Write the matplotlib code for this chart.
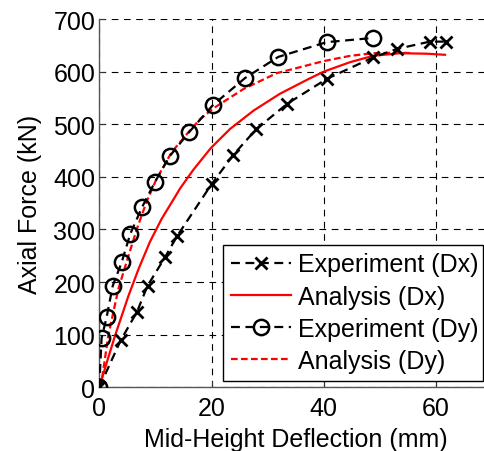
import matplotlib
matplotlib.use("Agg")
import matplotlib.pyplot as plt

plt.rcParams['font.family'] = ['Liberation Sans', 'DejaVu Sans']

# Experiment (Dx)
exp_dx_x = [0, 3.8, 6.7, 8.6, 11.7, 13.9, 20.0, 23.9, 28.0, 33.5, 40.5, 48.8, 53.0, 58.9, 61.8]
exp_dx_y = [0, 89, 143, 193, 247, 288, 386, 442, 491, 539, 586, 627, 643, 657, 657]

# Analysis (Dx)
ana_dx_x = [0, 1.3, 2.8, 5.2, 7.0, 9.0, 11.1, 13.5, 14.4, 16.8, 19.9, 23.3, 27.5, 32.2, 37.3, 40.0, 44.7, 48.8, 53.6, 58.4, 61.6]
ana_dx_y = [0, 46, 98, 174, 225, 276, 320, 362, 378, 414, 455, 491, 526, 558, 586, 600, 618, 630, 635, 634, 632]

# Experiment (Dy)
exp_dy_x = [0, 0.4, 1.3, 2.4, 4.0, 5.5, 7.6, 9.9, 12.6, 16.0, 20.3, 26.0, 31.9, 40.5, 48.8]
exp_dy_y = [0, 93, 133, 193, 238, 291, 342, 390, 440, 485, 537, 588, 628, 656, 664]

# Analysis (Dy)
ana_dy_x = [0, 0.4, 1.6, 3.4, 5.2, 6.7, 8.4, 10.2, 12.9, 15.9, 18.0, 20.3, 25.7, 31.6, 40.0, 44.7, 48.8, 53.6, 56.0]
ana_dy_y = [0, 10, 98, 187, 250, 301, 352, 396, 447, 485, 510, 530, 567, 597, 620, 630, 635, 636, 635]

xticks = [0, 20, 40, 60]
yticks = [0, 100, 200, 300, 400, 500, 600, 700]

W, H = 485, 452
fig = plt.figure(figsize=(W / 100, H / 100), dpi=100)
x0_px, x60_px = 99.3, 436.0
y0_px, y700_px = 388.3, 20.0
pxmm = (x60_px - x0_px) / 60
xmax = 70
ax = fig.add_axes([x0_px / W, (H - y0_px) / H, xmax * pxmm / W, (y0_px - y700_px) / H])

dash = (4, 2.5)
ax.plot(exp_dx_x, exp_dx_y, color='black', lw=1.6, ls='--', dashes=dash, marker='x',
        ms=9, mew=2, label='Experiment (Dx)', zorder=4)
ax.plot(ana_dx_x, ana_dx_y, color='red', lw=1.6, ls='-', label='Analysis (Dx)', zorder=3)
ax.plot(exp_dy_x, exp_dy_y, color='black', lw=1.6, ls='--', dashes=dash, marker='o',
        ms=11, mew=1.8, mfc='none', label='Experiment (Dy)', zorder=4)
ax.plot(ana_dy_x, ana_dy_y, color='red', lw=1.6, ls='--', dashes=(3, 1.5), label='Analysis (Dy)', zorder=3)

ax.set_xlim(0, xmax)
ax.set_ylim(0, 700)
ax.set_xticks(xticks)
ax.set_yticks(yticks)
ax.grid(True, color='black', ls='--', lw=0.8, dashes=(6, 5))
ax.tick_params(axis='x', pad=6)
ax.tick_params(direction='in', length=4, labelsize=18, color='#333333')
ax.tick_params(axis='y', pad=3)
for s in ['left', 'bottom']:
    ax.spines[s].set_color('#555555')
    ax.spines[s].set_linewidth(1.0)
for s in ['top', 'right']:
    ax.spines[s].set_visible(False)
ax.set_xlabel('Mid-Height Deflection (mm)', fontsize=18, labelpad=5)
ax.set_ylabel('Axial Force (kN)', fontsize=18, labelpad=8)

leg = ax.legend(loc='lower left', bbox_to_anchor=((223.3 - x0_px) / (xmax * pxmm), (y0_px - 381.7) / (y0_px - y700_px),
                                                  (483.3 - 223.3) / (xmax * pxmm), (381.7 - 243.3) / (y0_px - y700_px)),
                mode='expand', fontsize=18, frameon=True, fancybox=False, framealpha=1,
                edgecolor='black', handlelength=2.4, handletextpad=0.3, borderaxespad=0,
                labelspacing=0.33, borderpad=0.3)
leg.get_frame().set_linewidth(1.0)

fig.savefig('out.png', dpi=100)
